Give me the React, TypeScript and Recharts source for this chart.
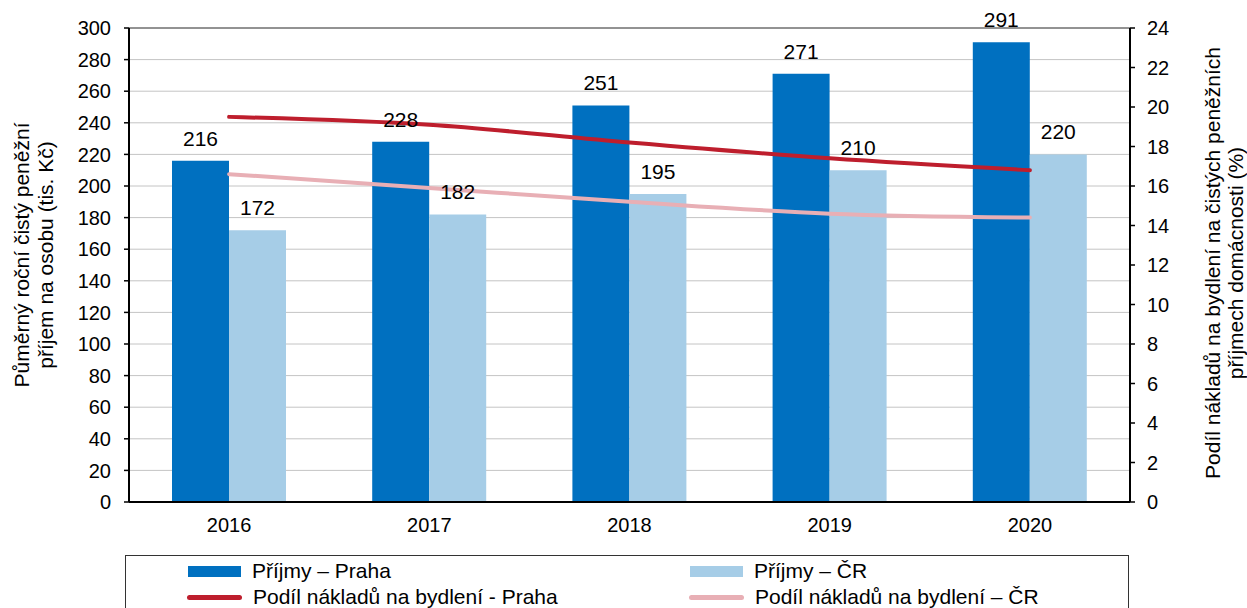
import React from 'react';
import {
  ComposedChart,
  Bar,
  Line,
  XAxis,
  YAxis,
  CartesianGrid,
  ReferenceLine,
  LabelList,
} from 'recharts';

const years = ['2016', '2017', '2018', '2019', '2020'];
const incomePraha = [216, 228, 251, 271, 291];
const incomeCR = [172, 182, 195, 210, 220];
const sharePraha = [19.5, 19.1, 18.2, 17.4, 16.8];
const shareCR = [16.6, 15.9, 15.2, 14.6, 14.4];
const leftTicks = [0, 20, 40, 60, 80, 100, 120, 140, 160, 180, 200, 220, 240, 260, 280, 300];
const rightTicks = [0, 2, 4, 6, 8, 10, 12, 14, 16, 18, 20, 22, 24];
const edgeTicks = [0, 1, 2, 3, 4, 5];

const BLUE = '#0070C0';
const LIGHT_BLUE = '#A6CDE7';
const RED = '#BE1E2D';
const PINK = '#E8AFB5';
const FONT = '"Liberation Sans", Arial, sans-serif';

const data = years.map((y, i) => ({
  year: y,
  praha: incomePraha[i],
  cr: incomeCR[i],
  sharePraha: sharePraha[i],
  shareCR: shareCR[i],
}));

const tickStyle = { fill: '#000', fontSize: 20, fontFamily: FONT };
const labelStyle = { fill: '#000', fontSize: 21, fontFamily: FONT };

function LeftTitle({ viewBox }: any) {
  const cy = viewBox.y + viewBox.height / 2 - 10;
  return (
    <text transform={`translate(0, ${cy}) rotate(-90)`} textAnchor="middle" fontSize={21} fontFamily={FONT} fill="#000">
      <tspan x={0} y={29}>Půměrný roční čistý peněžní</tspan>
      <tspan x={0} y={53}>příjem na osobu (tis. Kč)</tspan>
    </text>
  );
}

function RightTitle({ viewBox }: any) {
  const cy = viewBox.y + viewBox.height / 2 - 2;
  return (
    <text transform={`translate(1247, ${cy}) rotate(-90)`} textAnchor="middle" fontSize={21} fontFamily={FONT} fill="#000">
      <tspan x={0} y={-27}>Podíl nákladů na bydlení na čistých peněžních</tspan>
      <tspan x={0} y={-4}>příjmech domácnosti (%)</tspan>
    </text>
  );
}

function LegendItem({ color, line, label }: { color: string; line?: boolean; label: string }) {
  return (
    <div style={{ display: 'flex', alignItems: 'center', height: 26 }}>
      <div
        style={{
          width: line ? 55 : 53,
          height: line ? 5 : 11,
          background: color,
          borderRadius: line ? 3 : 0,
          marginRight: 11,
          marginLeft: line ? -1 : 0,
        }}
      />
      <span>{label}</span>
    </div>
  );
}

export default function App() {
  return (
    <div style={{ position: 'absolute', left: 0, top: 0, width: 1247, height: 608, overflow: 'hidden', background: '#fff' }}>
      <ComposedChart
        width={1247}
        height={608}
        data={data}
        margin={{ top: 28, right: 0, bottom: 66, left: 0 }}
        barGap={0}
        barSize={57}
      >
        <CartesianGrid vertical={false} stroke="#c4c4c4" yAxisId="left" />
        <XAxis
          xAxisId="edges"
          type="number"
          domain={[0, 5]}
          ticks={edgeTicks}
          tick={false}
          tickSize={8}
          axisLine={false}
          tickLine={{ stroke: '#000', strokeWidth: 2 }}
          height={8}
        />
        <XAxis
          dataKey="year"
          tick={tickStyle}
          tickLine={false}
          axisLine={{ stroke: '#000', strokeWidth: 2 }}
          tickMargin={10}
          height={32}
        />
        <YAxis
          yAxisId="left"
          domain={[0, 300]}
          ticks={leftTicks}
          interval={0}
          width={129}
          tick={tickStyle}
          tickSize={5}
          tickMargin={13}
          axisLine={{ stroke: '#000', strokeWidth: 2 }}
          tickLine={{ stroke: '#000', strokeWidth: 1.5 }}
          label={{ content: <LeftTitle /> }}
        />
        <YAxis
          yAxisId="right"
          orientation="right"
          domain={[0, 24]}
          ticks={rightTicks}
          interval={0}
          width={117}
          tick={tickStyle}
          tickSize={5}
          tickMargin={12}
          axisLine={{ stroke: '#000', strokeWidth: 2 }}
          tickLine={{ stroke: '#000', strokeWidth: 1.5 }}
          label={{ content: <RightTitle /> }}
        />
        <ReferenceLine yAxisId="left" y={300} stroke="#444" strokeWidth={1} />
        <Bar yAxisId="left" dataKey="praha" fill={BLUE} isAnimationActive={false}>
          <LabelList dataKey="praha" position="top" offset={15} style={labelStyle} />
        </Bar>
        <Bar yAxisId="left" dataKey="cr" fill={LIGHT_BLUE} isAnimationActive={false}>
          <LabelList dataKey="cr" position="top" offset={15} style={labelStyle} />
        </Bar>
        <Line
          yAxisId="right"
          dataKey="sharePraha"
          type="monotone"
          stroke={RED}
          strokeWidth={4}
          strokeLinecap="round"
          dot={false}
          isAnimationActive={false}
        />
        <Line
          yAxisId="right"
          dataKey="shareCR"
          type="monotone"
          stroke={PINK}
          strokeWidth={4}
          strokeLinecap="round"
          dot={false}
          isAnimationActive={false}
        />
      </ComposedChart>
      <div
        style={{
          position: 'absolute',
          left: 125,
          top: 555,
          width: 1002,
          height: 70,
          border: '1px solid #333',
          fontFamily: FONT,
          fontSize: 21,
          color: '#000',
        }}
      >
        <div style={{ position: 'absolute', left: 62, top: 2 }}>
          <LegendItem color={BLUE} label="Příjmy – Praha" />
          <LegendItem color={RED} line label="Podíl nákladů na bydlení - Praha" />
        </div>
        <div style={{ position: 'absolute', left: 564, top: 2 }}>
          <LegendItem color={LIGHT_BLUE} label="Příjmy – ČR" />
          <LegendItem color={PINK} line label="Podíl nákladů na bydlení – ČR" />
        </div>
      </div>
    </div>
  );
}
